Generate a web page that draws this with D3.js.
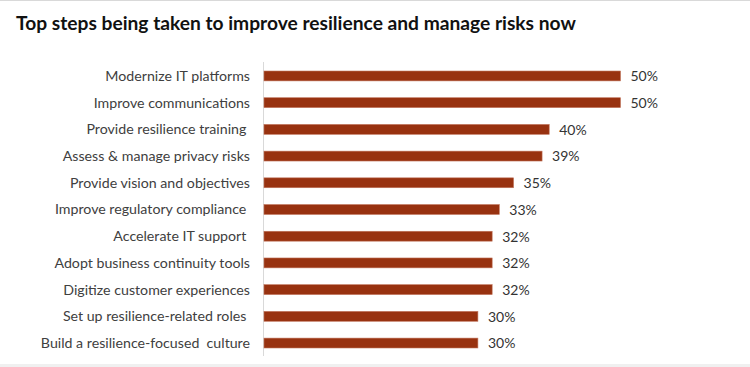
<!DOCTYPE html>
<html><head><meta charset="utf-8">
<script src="https://cdn.jsdelivr.net/npm/d3@7"></script>
<style>body{margin:0;background:#fff;}svg{display:block;}</style>
</head><body><svg id="c" width="750" height="367"></svg>
<script>
const categories = ["Modernize IT platforms","Improve communications","Provide resilience training ","Assess & manage privacy risks","Provide vision and objectives","Improve regulatory compliance ","Accelerate IT support ","Adopt business continuity tools","Digitize customer experiences","Set up resilience-related roles ","Build a resilience-focused  culture"];
const values = [50,50,40,39,35,33,32,32,32,30,30];
const title = "Top steps being taken to improve resilience and manage risks now";

const svg = d3.select("#c");
const font = "Lato, 'Open Sans', sans-serif";
svg.append("rect").attr("x",0).attr("y",0).attr("width",750).attr("height",1).attr("fill","#d9d9d9");
svg.append("rect").attr("x",0).attr("y",364).attr("width",750).attr("height",3).attr("fill","#f0f0f0");

svg.append("text").attr("x",16).attr("y",30).text(title)
  .attr("font-family",font).attr("font-weight","bold").attr("font-size",19.2).attr("fill","#111");

const x = d3.scaleLinear().domain([0,50]).range([264,620.5]);
const y = d3.scaleBand().domain(categories).range([63,356]).paddingInner(0.63).paddingOuter(0.3);

svg.append("line").attr("x1",263.5).attr("x2",263.5).attr("y1",62).attr("y2",356).attr("stroke","#d9d9d9");

svg.selectAll("rect.bar").data(values).enter().append("rect").attr("class","bar")
  .attr("x",x(0)).attr("y",(d,i)=>y(categories[i]))
  .attr("width",d=>x(d)-x(0)).attr("height",y.bandwidth())
  .attr("fill","#983210").attr("stroke","#c0735a").attr("stroke-width",0.6);

svg.selectAll("text.lab").data(categories).enter().append("text").attr("class","lab")
  .attr("x",250).attr("y",d=>y(d)+y.bandwidth()/2).attr("dy","0.35em")
  .attr("text-anchor","end").attr("xml:space","preserve").style("white-space","pre")
  .attr("font-family",font).attr("font-size",14.2).attr("fill","#404040").text(d=>d);

svg.selectAll("text.val").data(values).enter().append("text").attr("class","val")
  .attr("x",d=>x(d)+10).attr("y",(d,i)=>y(categories[i])+y.bandwidth()/2).attr("dy","0.38em")
  .attr("font-family",font).attr("font-size",14).attr("fill","#333").text(d=>d+"%");
</script></body></html>
